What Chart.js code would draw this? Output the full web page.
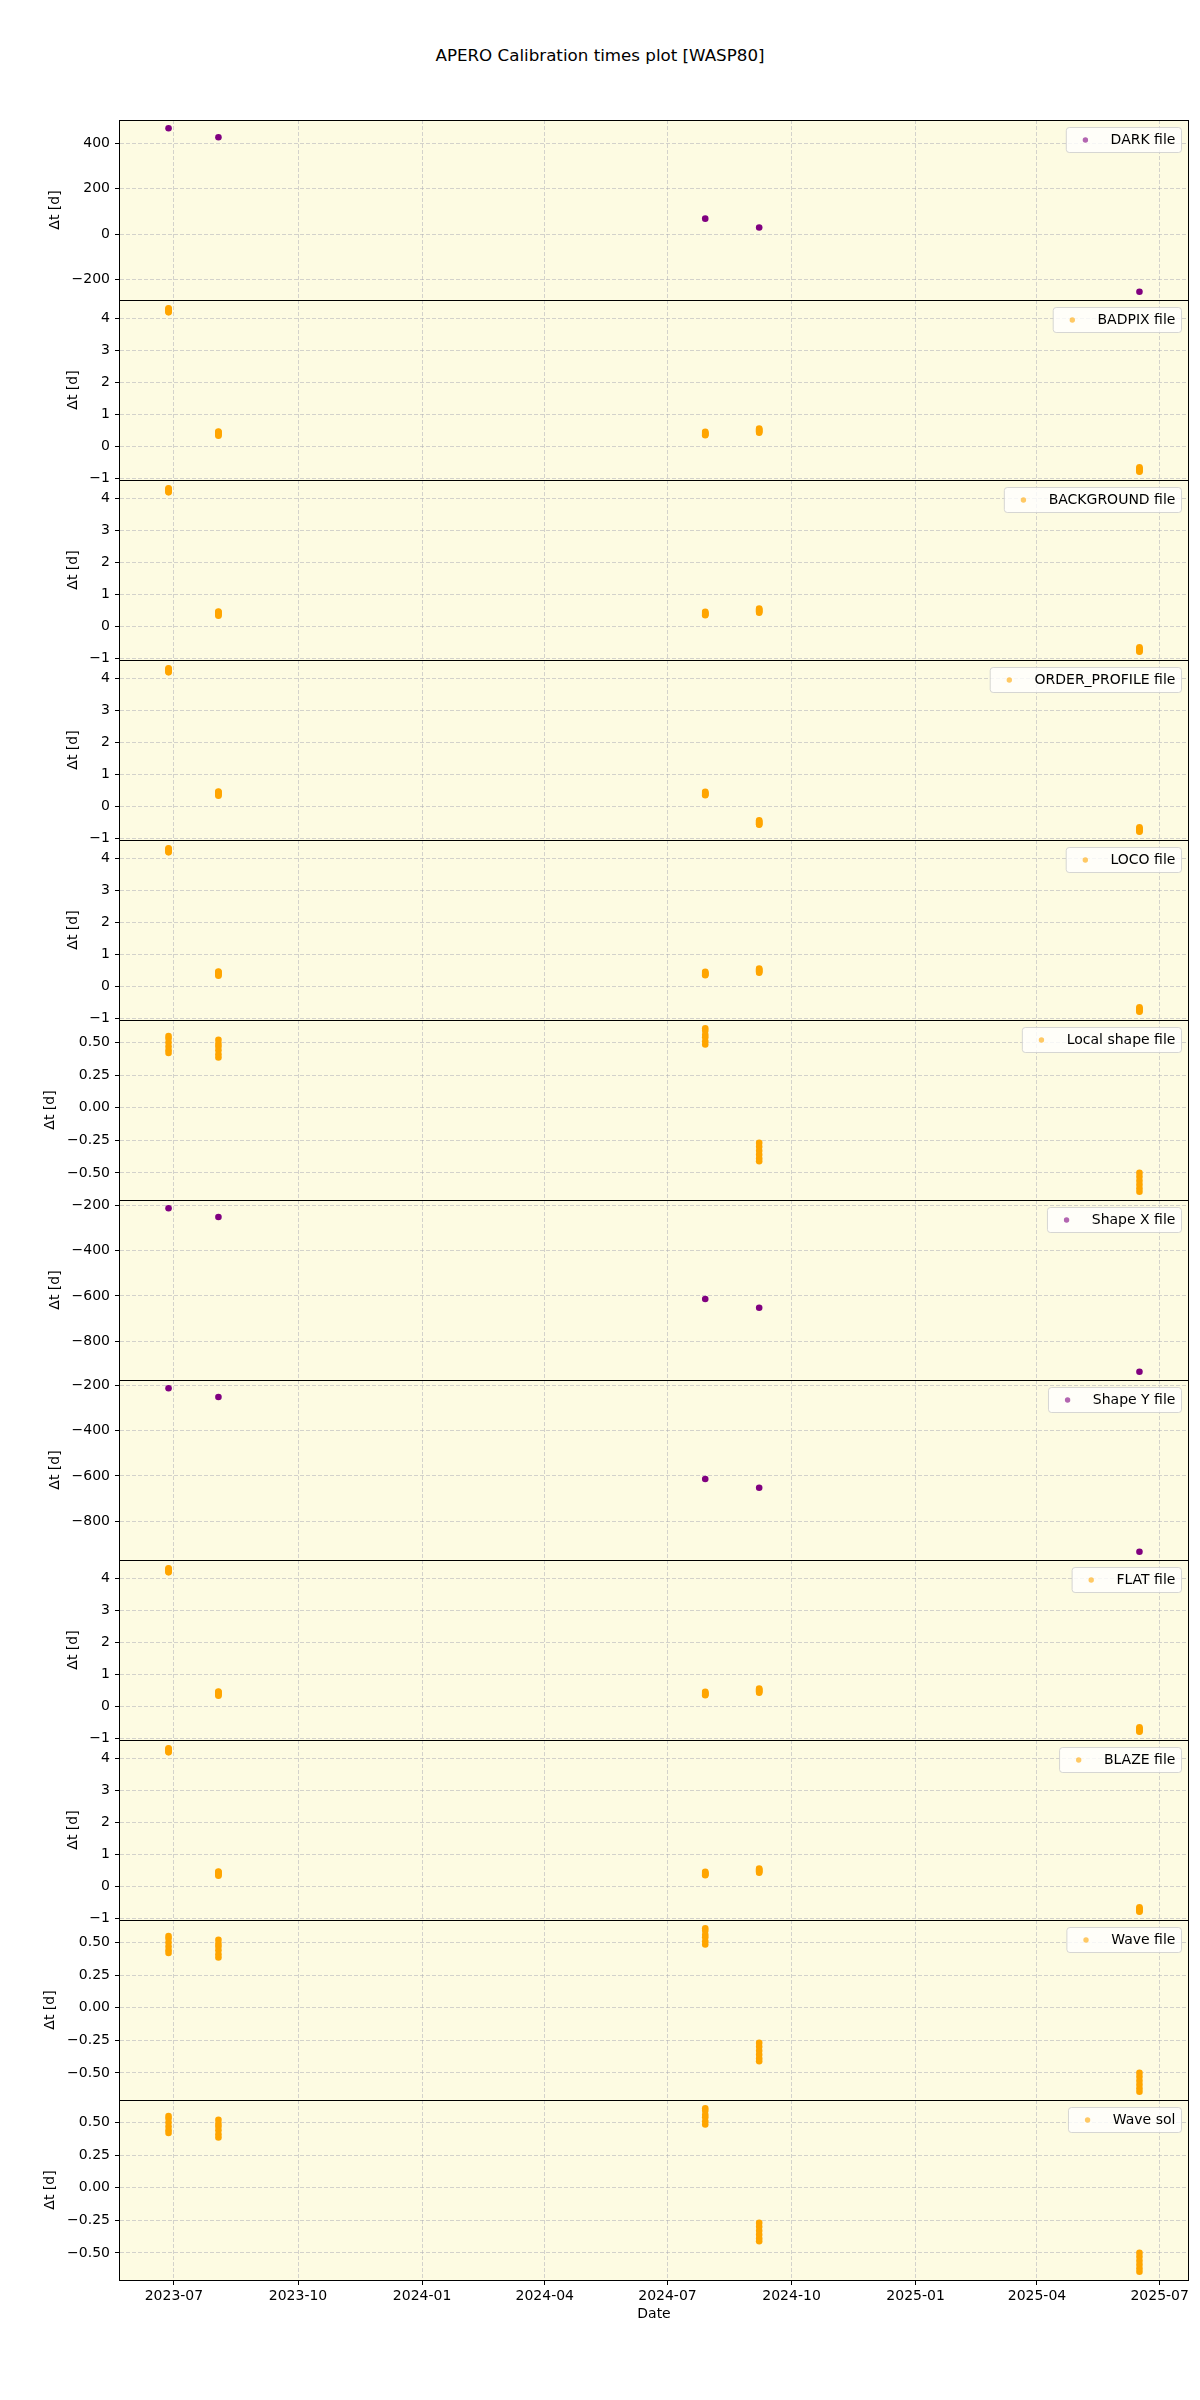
<!DOCTYPE html>
<html>
<head>
<meta charset="utf-8">
<script src="https://cdn.jsdelivr.net/npm/chart.js@4.4.0/dist/chart.umd.min.js"></script>
<style>
  body { margin: 0; background: #fff; font-family: 'DejaVu Sans', sans-serif; }
  #page { position: relative; width: 1200px; height: 2400px; }
  #title { position: absolute; top: 45px; left: 0; width: 1200px; text-align: center; font-size: 16.7px; line-height: 20px; color: #000; }
  canvas.panel { position: absolute; left: 0; }
</style>
</head>
<body>
<div id="page">
  <div id="title">APERO Calibration times plot [WASP80]</div>
</div>
<script>
// observation nights (one cluster of exposures per night)
const obsDates = ['2023-06-27', '2023-08-03', '2024-07-29', '2024-09-07', '2025-06-16'];
const xTickLabels = ['2023-07', '2023-10', '2024-01', '2024-04', '2024-07', '2024-10', '2025-01', '2025-04', '2025-07'];

// Δt [d] per night, one list of exposures per night
const darkDt = [[466], [426], [68], [29], [-254]];
const badpixDt = [
  [4.31, 4.29, 4.26, 4.23, 4.20, 4.18],
  [0.46, 0.44, 0.41, 0.38, 0.35, 0.33],
  [0.45, 0.43, 0.40, 0.38, 0.36, 0.34],
  [0.55, 0.53, 0.50, 0.47, 0.44, 0.42],
  [-0.66, -0.69, -0.72, -0.75, -0.78, -0.80],
];
const backgroundDt = [
  [4.31, 4.29, 4.26, 4.23, 4.20, 4.18],
  [0.46, 0.44, 0.41, 0.38, 0.35, 0.33],
  [0.45, 0.43, 0.40, 0.38, 0.36, 0.34],
  [0.55, 0.53, 0.50, 0.47, 0.44, 0.42],
  [-0.66, -0.69, -0.72, -0.75, -0.78, -0.80],
];
const orderProfileDt = [
  [4.31, 4.29, 4.26, 4.23, 4.20, 4.18],
  [0.46, 0.44, 0.41, 0.38, 0.35, 0.33],
  [0.45, 0.43, 0.40, 0.38, 0.36, 0.34],
  [-0.44, -0.47, -0.50, -0.53, -0.56, -0.58],
  [-0.66, -0.69, -0.72, -0.75, -0.78, -0.80],
];
const locoDt = [
  [4.31, 4.29, 4.26, 4.23, 4.20, 4.18],
  [0.46, 0.44, 0.41, 0.38, 0.35, 0.33],
  [0.45, 0.43, 0.40, 0.38, 0.36, 0.34],
  [0.55, 0.53, 0.50, 0.47, 0.44, 0.42],
  [-0.66, -0.69, -0.72, -0.75, -0.78, -0.80],
];
const localShapeDt = [
  [0.55, 0.53, 0.50, 0.47, 0.44, 0.42],
  [0.52, 0.49, 0.47, 0.44, 0.41, 0.385],
  [0.61, 0.59, 0.56, 0.54, 0.51, 0.485],
  [-0.27, -0.30, -0.33, -0.36, -0.39, -0.41],
  [-0.50, -0.53, -0.56, -0.59, -0.62, -0.645],
];
const shapeXDt = [[-212], [-251], [-613], [-652], [-935]];
const shapeYDt = [[-212], [-251], [-613], [-652], [-935]];
const flatDt = [
  [4.31, 4.29, 4.26, 4.23, 4.20, 4.18],
  [0.46, 0.44, 0.41, 0.38, 0.35, 0.33],
  [0.45, 0.43, 0.40, 0.38, 0.36, 0.34],
  [0.55, 0.53, 0.50, 0.47, 0.44, 0.42],
  [-0.66, -0.69, -0.72, -0.75, -0.78, -0.80],
];
const blazeDt = [
  [4.31, 4.29, 4.26, 4.23, 4.20, 4.18],
  [0.46, 0.44, 0.41, 0.38, 0.35, 0.33],
  [0.45, 0.43, 0.40, 0.38, 0.36, 0.34],
  [0.55, 0.53, 0.50, 0.47, 0.44, 0.42],
  [-0.66, -0.69, -0.72, -0.75, -0.78, -0.80],
];
const waveFileDt = [
  [0.55, 0.53, 0.50, 0.47, 0.44, 0.42],
  [0.52, 0.49, 0.47, 0.44, 0.41, 0.385],
  [0.61, 0.59, 0.56, 0.54, 0.51, 0.485],
  [-0.27, -0.30, -0.33, -0.36, -0.39, -0.41],
  [-0.50, -0.53, -0.56, -0.59, -0.62, -0.645],
];
const waveSolDt = [
  [0.55, 0.53, 0.50, 0.47, 0.44, 0.42],
  [0.52, 0.49, 0.47, 0.44, 0.41, 0.385],
  [0.61, 0.59, 0.56, 0.54, 0.51, 0.485],
  [-0.27, -0.30, -0.33, -0.36, -0.39, -0.41],
  [-0.50, -0.53, -0.56, -0.59, -0.62, -0.645],
];

const dtTicksLarge = [-200, 0, 200, 400];
const dtTicksShort = [-1, 0, 1, 2, 3, 4];
const dtTicksFine = [-0.5, -0.25, 0, 0.25, 0.5];
const dtTicksShape = [-800, -600, -400, -200];

const PURPLE = '#800080';
const ORANGE = '#ffa500';
const PLOT_BG = '#fdfbe2';
const GRID = 'rgba(170,170,180,0.5)';
const FONT = '"DejaVu Sans", sans-serif';

const panels = [
  { label: 'DARK file', color: PURPLE, dt: darkDt, ticks: dtTicksLarge, dec: 0 },
  { label: 'BADPIX file', color: ORANGE, dt: badpixDt, ticks: dtTicksShort, dec: 0 },
  { label: 'BACKGROUND file', color: ORANGE, dt: backgroundDt, ticks: dtTicksShort, dec: 0 },
  { label: 'ORDER_PROFILE file', color: ORANGE, dt: orderProfileDt, ticks: dtTicksShort, dec: 0 },
  { label: 'LOCO file', color: ORANGE, dt: locoDt, ticks: dtTicksShort, dec: 0 },
  { label: 'Local shape file', color: ORANGE, dt: localShapeDt, ticks: dtTicksFine, dec: 2 },
  { label: 'Shape X file', color: PURPLE, dt: shapeXDt, ticks: dtTicksShape, dec: 0 },
  { label: 'Shape Y file', color: PURPLE, dt: shapeYDt, ticks: dtTicksShape, dec: 0 },
  { label: 'FLAT file', color: ORANGE, dt: flatDt, ticks: dtTicksShort, dec: 0 },
  { label: 'BLAZE file', color: ORANGE, dt: blazeDt, ticks: dtTicksShort, dec: 0 },
  { label: 'Wave file', color: ORANGE, dt: waveFileDt, ticks: dtTicksFine, dec: 2 },
  { label: 'Wave sol', color: ORANGE, dt: waveSolDt, ticks: dtTicksFine, dec: 2 },
];

Chart.defaults.font.family = FONT;
Chart.defaults.font.size = 14;
Chart.defaults.color = '#000';

const fmtTick = (v, dec) => v.toFixed(dec).replace('-', '\u2212');
const withAlpha = (hex, a) => {
  const n = parseInt(hex.slice(1), 16);
  return `rgba(${(n >> 16) & 255},${(n >> 8) & 255},${n & 255},${a})`;
};

function toPoints(dt) {
  const pts = [];
  obsDates.forEach((d, i) => dt[i].forEach((v) => pts.push({ x: Date.parse(d), y: v })));
  return pts;
}

// matplotlib-like 5% margins
function paddedRange(values) {
  const lo = Math.min(...values);
  const hi = Math.max(...values);
  const m = (hi - lo) * 0.05;
  return [lo - m, hi + m];
}

const [xMin, xMax] = paddedRange(obsDates.map((d) => Date.parse(d)));

const panelDeco = {
  id: 'panelDeco',
  beforeDraw(chart) {
    const { ctx, chartArea: a } = chart;
    ctx.save();
    ctx.fillStyle = PLOT_BG;
    ctx.fillRect(a.left, a.top, a.right - a.left, a.bottom - a.top);
    ctx.restore();
  },
  afterDraw(chart, args, opts) {
    const { ctx, chartArea: a } = chart;
    ctx.save();
    // frame
    ctx.strokeStyle = '#000';
    ctx.lineWidth = 1;
    ctx.strokeRect(a.left - 0.5, a.top + 0.5, a.right - a.left + 1, a.bottom - a.top);

    // legend box, upper right
    ctx.font = `14px ${FONT}`;
    const tw = ctx.measureText(opts.label).width;
    const pad = 5.6, handle = 28, gap = 11.2, h = 25;
    const w = pad + handle + gap + tw + pad;
    const bx = a.right - 7 - w, by = a.top + 7;
    ctx.beginPath();
    ctx.roundRect(bx + 0.5, by + 0.5, w, h, 3);
    ctx.fillStyle = 'rgba(255,255,255,0.8)';
    ctx.fill();
    ctx.strokeStyle = 'rgba(204,204,204,0.8)';
    ctx.stroke();
    ctx.beginPath();
    ctx.arc(bx + pad + handle / 2, by + h / 2 + 0.5, 2.7, 0, Math.PI * 2);
    ctx.fillStyle = withAlpha(opts.color, 0.6);
    ctx.fill();
    ctx.fillStyle = '#000';
    ctx.textAlign = 'left';
    ctx.textBaseline = 'middle';
    ctx.fillText(opts.label, bx + pad + handle + gap, by + h / 2 + 1);

    // y label next to the widest tick label
    const ys = chart.scales.y;
    const widest = Math.max(...ys.ticks.map((t) => ctx.measureText(fmtTick(t.value, opts.dec)).width));
    const lx = a.left - 5 - 5 - widest - 16.5;
    ctx.translate(lx, (a.top + a.bottom) / 2);
    ctx.rotate(-Math.PI / 2);
    ctx.textAlign = 'center';
    ctx.fillText('\u0394t [d]', 0, 0);
    ctx.restore();
  },
};

const page = document.getElementById('page');
const PANEL_TOP = 120;
const PANEL_H = 180;
const EDGE = 20;

panels.forEach((p, idx) => {
  const last = idx === panels.length - 1;
  const axisH = last ? 60 : 0;
  const canvas = document.createElement('canvas');
  canvas.className = 'panel';
  canvas.width = 1200;
  canvas.height = EDGE + PANEL_H + (last ? axisH : EDGE);
  canvas.style.top = `${PANEL_TOP + idx * PANEL_H - EDGE}px`;
  page.appendChild(canvas);

  const [yMin, yMax] = paddedRange(p.dt.flat());

  new Chart(canvas.getContext('2d'), {
    type: 'scatter',
    data: {
      datasets: [{
        label: p.label,
        data: toPoints(p.dt),
        backgroundColor: p.color,
        pointRadius: 3.3,
        pointBorderWidth: 0,
        pointHoverRadius: 3.3,
      }],
    },
    options: {
      responsive: false,
      animation: false,
      events: [],
      layout: { padding: { left: 0, right: 12, top: EDGE, bottom: last ? 0 : EDGE } },
      plugins: {
        legend: { display: false },
        tooltip: { enabled: false },
        panelDeco: { label: p.label, color: p.color, dec: p.dec },
      },
      scales: {
        x: {
          type: 'linear',
          min: xMin,
          max: xMax,
          afterBuildTicks: (s) => { s.ticks = xTickLabels.map((l) => ({ value: Date.parse(`${l}-01`) })); },
          afterFit: (s) => { s.height = axisH; },
          ticks: {
            display: last,
            autoSkip: false,
            maxRotation: 0,
            padding: 3,
            callback: (v, i) => xTickLabels[i],
          },
          grid: {
            color: GRID,
            lineWidth: 1,
            drawTicks: last,
            tickLength: 5,
            tickColor: '#000',
            tickBorderDash: [],
          },
          border: { display: false, dash: [4, 2] },
          title: { display: last, text: 'Date', padding: { top: 0, bottom: 17.6 } },
        },
        y: {
          min: yMin,
          max: yMax,
          afterBuildTicks: (s) => { s.ticks = p.ticks.map((v) => ({ value: v })); },
          afterFit: (s) => { s.width = 120; },
          ticks: {
            autoSkip: false,
            padding: 5,
            callback: (v) => fmtTick(v, p.dec),
          },
          grid: {
            color: GRID,
            lineWidth: 1,
            drawTicks: true,
            tickLength: 5,
            tickColor: '#000',
            tickBorderDash: [],
          },
          border: { display: false, dash: [4, 2] },
        },
      },
    },
    plugins: [panelDeco],
  });
});
</script>
</body>
</html>
